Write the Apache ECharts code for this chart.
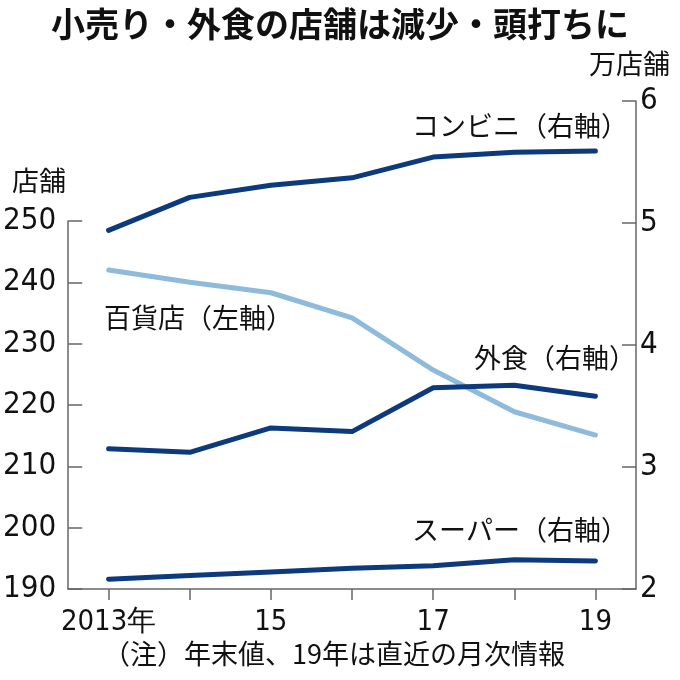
<!DOCTYPE html>
<html>
<head>
<meta charset="utf-8">
<script src="https://cdn.jsdelivr.net/npm/echarts@6/dist/echarts.min.js"></script>
<style>
html,body{margin:0;padding:0;background:#fff;}
#chart{width:680px;height:680px;}
</style>
</head>
<body>
<div id="chart"></div>
<script>
var categories = ['2013', '2014', '2015', '2016', '2017', '2018', '2019'];
var xTickLabels = ['2013年', '14', '15', '16', '17', '18', '19'];
var conbini = [4.94, 5.21, 5.31, 5.37, 5.54, 5.58, 5.59];
var gaishoku = [3.15, 3.12, 3.32, 3.29, 3.65, 3.67, 3.58];
var superMarket = [2.08, 2.11, 2.14, 2.17, 2.19, 2.24, 2.23];
var department = [242, 240, 238.3, 234.2, 225.7, 218.9, 215.1];
var seriesNames = ['コンビニ（右軸）', '百貨店（左軸）', '外食（右軸）', 'スーパー（右軸）'];

var NUM_FONT = "'Liberation Sans Narrow', 'DejaVu Sans Condensed', 'Liberation Sans', sans-serif";
var JP_FONT = "'Noto Sans CJK JP', sans-serif";
var NAVY = '#0c3a7c';
var LIGHT = '#8ebbdc';
var AXIS = '#666';

var chart = echarts.init(document.getElementById('chart'), null, {renderer: 'canvas'});

function lineSeries(name, data, xi, yi, color) {
  return {
    name: name, type: 'line', data: data,
    xAxisIndex: xi, yAxisIndex: yi,
    symbol: 'none', smooth: false,
    lineStyle: {color: color, width: 5, cap: 'round', join: 'round'},
    emphasis: {disabled: true},
    silent: true
  };
}

var option = {
  animation: false,
  backgroundColor: '#fff',
  title: {
    text: '小売り・外食の店舗は減少・頭打ちに',
    left: 'center', top: 2,
    textStyle: {fontFamily: JP_FONT, fontSize: 34, fontWeight: 'bold', color: '#111'}
  },
  grid: [
    {left: 68, right: 44, top: 101, bottom: 91},
    {left: 68, right: 44, top: 221, bottom: 91}
  ],
  xAxis: [
    {
      type: 'category', gridIndex: 0, data: categories, boundaryGap: true,
      axisLine: {lineStyle: {color: AXIS, width: 1.5}},
      axisTick: {show: true, interval: 0, alignWithLabel: true, length: 11, lineStyle: {color: AXIS, width: 1.5}},
      axisLabel: {
        interval: 1, margin: 19, color: '#111', fontSize: 29, fontFamily: NUM_FONT,
        formatter: function (v, i) { return xTickLabels[i]; }
      },
      splitLine: {show: false}
    },
    {
      type: 'category', gridIndex: 1, data: categories, boundaryGap: true, show: false
    }
  ],
  yAxis: [
    {
      type: 'value', gridIndex: 0, position: 'right', min: 2, max: 6, interval: 1,
      axisLine: {show: true, lineStyle: {color: AXIS, width: 1.5}},
      axisTick: {show: true, inside: true, length: 14, lineStyle: {color: AXIS, width: 1.5}},
      axisLabel: {margin: 4, color: '#111', fontSize: 31, fontFamily: NUM_FONT},
      splitLine: {show: false}
    },
    {
      type: 'value', gridIndex: 1, position: 'left', min: 190, max: 250, interval: 10,
      axisLine: {show: true, lineStyle: {color: AXIS, width: 1.5}},
      axisTick: {show: true, inside: true, length: 14, lineStyle: {color: AXIS, width: 1.5}},
      axisLabel: {margin: 12, color: '#111', fontSize: 31, fontFamily: NUM_FONT},
      splitLine: {show: false}
    }
  ],
  series: [
    lineSeries(seriesNames[1], department, 1, 1, LIGHT),
    lineSeries(seriesNames[0], conbini, 0, 0, NAVY),
    lineSeries(seriesNames[2], gaishoku, 0, 0, NAVY),
    lineSeries(seriesNames[3], superMarket, 0, 0, NAVY)
  ],
  graphic: [
    {type: 'text', right: 10, top: 50, style: {text: '万店舗', font: '27px ' + JP_FONT, fill: '#111'}},
    {type: 'text', left: 12, top: 167, style: {text: '店舗', font: '27px ' + JP_FONT, fill: '#111'}},
    {type: 'text', left: 412, top: 112, style: {text: seriesNames[0], font: '27px ' + JP_FONT, fill: '#111'}},
    {type: 'text', left: 104, top: 304, style: {text: seriesNames[1], font: '27px ' + JP_FONT, fill: '#111'}},
    {type: 'text', left: 474, top: 344, style: {text: seriesNames[2], font: '27px ' + JP_FONT, fill: '#111'}},
    {type: 'text', left: 412, top: 516, style: {text: seriesNames[3], font: '27px ' + JP_FONT, fill: '#111'}},
    {type: 'text', left: 103, top: 640, style: {text: '（注）年末値、19年は直近の月次情報', font: '27px ' + JP_FONT, fill: '#111'}}
  ]
};
chart.setOption(option);
</script>
</body>
</html>
